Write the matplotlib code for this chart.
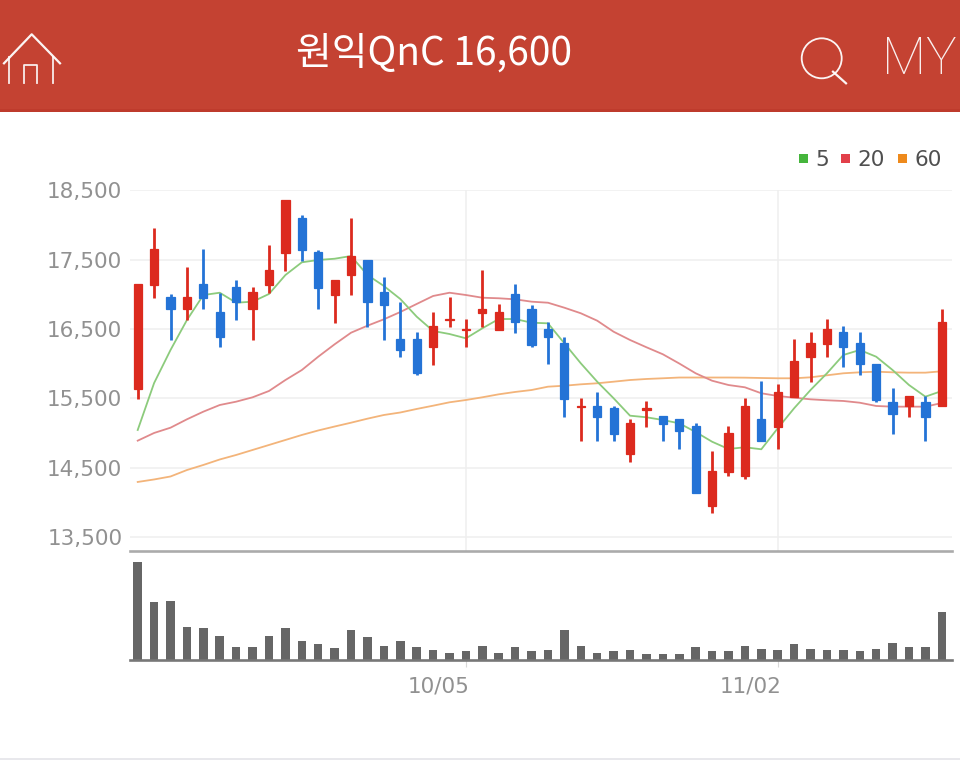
import matplotlib
matplotlib.use("Agg")
import matplotlib.pyplot as plt
from matplotlib.patches import Circle, Rectangle
from matplotlib.transforms import ScaledTranslation

# daily candles
opens = [15630, 17135, 16958, 16785, 17145, 16746, 17102, 16785, 17135, 17592,
         18105, 17607, 16991, 17280, 17496, 17039, 16353, 16353, 16238, 16630,
         16480, 16736, 16487, 17000, 16794, 16500, 16295, 15378, 15396, 15358,
         14696, 15335, 15248, 15205, 15105, 13950, 14445, 14380, 15205, 15094,
         15522, 16094, 16280, 16460, 16295, 15997, 15453, 15396, 15453, 15388]
closes = [17150, 17650, 16785, 16958, 16948, 16386, 16886, 17039, 17356, 18356,
          17635, 17097, 17207, 17549, 16886, 16843, 16200, 15870, 16540, 16650,
          16500, 16794, 16750, 16598, 16275, 16380, 15492, 15395, 15238, 14992,
          15150, 15358, 15132, 15032, 14142, 14455, 15000, 15392, 14888, 15598,
          16045, 16295, 16500, 16240, 15997, 15478, 15277, 15540, 15238, 16600]
highs = [17150, 17960, 17000, 17400, 17650, 17015, 17207, 17102, 17708, 18356,
         18148, 17640, 17207, 18105, 17496, 17250, 16895, 16460, 16750, 16958,
         16645, 17350, 16857, 17150, 16847, 16606, 16390, 15500, 15598, 15396,
         15200, 15463, 15248, 15205, 15150, 14748, 15105, 15500, 15750, 15705,
         16353, 16460, 16645, 16545, 16460, 15997, 15645, 15540, 15536, 16790]
lows = [15490, 16944, 16343, 16630, 16785, 16238, 16630, 16343, 17025, 17340,
        17485, 16785, 16592, 16991, 16534, 16343, 16094, 15838, 15982, 16526,
        16238, 16526, 16487, 16450, 16238, 15993, 15238, 14888, 14888, 14888,
        14590, 15094, 14888, 14776, 14142, 13845, 14380, 14340, 14888, 14778,
        15522, 15740, 16094, 15950, 15843, 15445, 14987, 15238, 14888, 15388]

ma5 = [15046, 15723, 16199, 16631, 16991, 17024, 16880, 16895, 17006, 17279,
       17462, 17496, 17514, 17553, 17279, 17121, 16934, 16679, 16473, 16429,
       16367, 16511, 16645, 16645, 16592, 16583, 16295, 16007, 15742, 15503,
       15252, 15229, 15190, 15142, 15017, 14877, 14772, 14797, 14768, 15070,
       15359, 15622, 15863, 16127, 16199, 16102, 15910, 15694, 15526, 15608]
ma20 = [14892, 15003, 15079, 15200, 15310, 15406, 15454, 15517, 15608, 15766,
        15910, 16102, 16281, 16448, 16549, 16641, 16746, 16862, 16977, 17024,
        16991, 16952, 16944, 16929, 16895, 16880, 16808, 16728, 16621, 16462,
        16343, 16238, 16137, 16004, 15863, 15756, 15694, 15661, 15575, 15536,
        15511, 15488, 15474, 15464, 15439, 15392, 15382, 15382, 15382, 15435]
ma60 = [14297, 14333, 14376, 14469, 14542, 14621, 14686, 14758, 14830, 14902,
        14974, 15039, 15096, 15151, 15209, 15262, 15298, 15349, 15396, 15445,
        15478, 15517, 15560, 15594, 15622, 15670, 15684, 15704, 15719, 15742,
        15766, 15781, 15791, 15802, 15802, 15802, 15802, 15800, 15795, 15791,
        15791, 15805, 15834, 15863, 15877, 15886, 15877, 15872, 15872, 15892]

volumes = [98.3, 57.7, 59.3, 33.3, 31.7, 24.3, 13, 13, 24.3, 31.7,
           18.7, 15.7, 11.7, 30.3, 23, 14.3, 18.7, 13, 10, 7,
           8.7, 14.3, 7, 13, 8.7, 10, 30.3, 14.3, 7, 8.7,
           10, 5.7, 5.7, 5.7, 13, 8.7, 8.7, 14.3, 11.3, 10,
           15.7, 11.3, 10, 10, 8.7, 11.3, 17.3, 13, 13, 47.7]

price_ticks = [13500, 14500, 15500, 16500, 17500, 18500]
price_labels = ["13,500", "14,500", "15,500", "16,500", "17,500", "18,500"]
date_ticks = [20, 39]
date_labels = ["10/05", "11/02"]
title_text = "원익QnC 16,600"
legend_names = ["5", "20", "60"]

UP = "#DC2A1E"
DOWN = "#2473D6"
MA_COLORS = ["#8CCB7C", "#E08A8C", "#F3B47A"]
LEGEND_COLORS = ["#45B53C", "#E2404A", "#EE8A1C"]
HEADER = "#C44232"
W, H = 960, 760


def axes_rect(left, top, right, bottom):
    # pixel box (y from the top) to figure fractions
    return [left / W, 1 - bottom / H, (right - left) / W, (bottom - top) / H]


def draw_price(ax):
    x = list(range(len(opens)))
    ax.plot(x, ma60, color=MA_COLORS[2], linewidth=1.3, zorder=2)
    ax.plot(x, ma20, color=MA_COLORS[1], linewidth=1.3, zorder=2)
    ax.plot(x, ma5, color=MA_COLORS[0], linewidth=1.3, zorder=2)
    for i in x:
        color = UP if closes[i] >= opens[i] else DOWN
        ax.vlines(i, lows[i], highs[i], color=color, linewidth=2.0, zorder=3)
        ax.bar(i, abs(closes[i] - opens[i]), bottom=min(opens[i], closes[i]), width=0.5,
               color=color, edgecolor=color, linewidth=0.9, zorder=3)

    ax.set_xlim(-0.47, 49.62)
    ax.set_ylim(13302, 18500)
    ax.set_yticks(price_ticks, price_labels)
    ax.set_xticks(date_ticks)
    ax.tick_params(axis="x", length=0, labelbottom=False)
    ax.tick_params(axis="y", length=0, pad=5.5, labelsize=15.5, labelcolor="#919191")
    ax.grid(True, color="#EFEFEF", linewidth=1.1)
    ax.set_axisbelow(True)
    for side in ["top", "left", "right"]:
        ax.spines[side].set_visible(False)
    ax.spines["bottom"].set_color("#ABABAB")
    ax.spines["bottom"].set_linewidth(1.9)


def draw_volume(ax, fig):
    ax.bar(range(len(volumes)), volumes, width=0.52, color="#666666")
    ax.set_xlim(-0.47, 49.62)
    ax.set_ylim(0, 108)
    ax.set_yticks([])
    ax.set_xticks(date_ticks, date_labels)
    ax.tick_params(axis="x", length=5, width=0.8, color="#D8D8D8", pad=7, labelsize=15.5, labelcolor="#919191")
    # date labels end just right of their tick
    nudge = ScaledTranslation(4 / 100, 0, fig.dpi_scale_trans)
    for label in ax.get_xticklabels():
        label.set_horizontalalignment("right")
        label.set_transform(label.get_transform() + nudge)
    for side in ["top", "left", "right"]:
        ax.spines[side].set_visible(False)
    ax.spines["bottom"].set_color("#777777")
    ax.spines["bottom"].set_linewidth(1.9)


def draw_page(ax):
    ax.set_xlim(0, W)
    ax.set_ylim(H, 0)
    ax.axis("off")
    ax.add_patch(Rectangle((0, 0), W, 111, color=HEADER, linewidth=0))
    ax.add_patch(Rectangle((0, 109), W, 2.5, color="#BE3B2C", linewidth=0))
    ax.add_patch(Rectangle((0, 758), W, 2, color="#E8E8EC", linewidth=0))
    ax.text(434.5, 54, title_text, color="white", fontsize=28, ha="center", va="center",
            family=["Noto Sans CJK KR", "DejaVu Sans"], fontweight="medium")

    # home icon
    ax.plot([4, 31.7, 60], [63.3, 34.3, 63.3], color="white", linewidth=1.6, alpha=0.95)
    ax.plot([9, 9], [57, 83.3], color="white", linewidth=1.3, alpha=0.9)
    ax.plot([53, 53], [57, 83.3], color="white", linewidth=1.3, alpha=0.9)
    ax.plot([24.3, 24.3, 36.7, 36.7], [83.3, 65, 65, 83.3], color="white", linewidth=1.3, alpha=0.9)

    # search icon
    ax.add_patch(Circle((821.7, 58.3), 20, fill=False, edgecolor="white", linewidth=1.3, alpha=0.95))
    ax.plot([833, 846], [71.7, 83.3], color="white", linewidth=1.6, alpha=0.95)
    ax.text(919.5, 60, "MY", color="white", fontsize=37, ha="center", va="center", family="Roboto",
            fontweight="light", alpha=0.92)

    # legend
    squares = [799, 841, 898]
    text_x = [815, 857, 914]
    for left, tx, name, color in zip(squares, text_x, legend_names, LEGEND_COLORS):
        ax.add_patch(Rectangle((left, 154), 9, 9, color=color, linewidth=0))
        ax.text(tx, 160, name, color="#4F4F4F", fontsize=15.5, ha="left", va="center")


def main():
    fig = plt.figure(figsize=(W / 100, H / 100), dpi=100)
    page_ax = fig.add_axes([0, 0, 1, 1], zorder=0)
    price_ax = fig.add_axes(axes_rect(130, 190.3, 952, 551), zorder=1)
    volume_ax = fig.add_axes(axes_rect(130, 552, 952, 660), zorder=1)
    price_ax.patch.set_alpha(0)
    volume_ax.patch.set_alpha(0)

    draw_page(page_ax)
    draw_price(price_ax)
    draw_volume(volume_ax, fig)

    fig.savefig("out.png", dpi=100)
    plt.close(fig)


if __name__ == "__main__":
    main()
